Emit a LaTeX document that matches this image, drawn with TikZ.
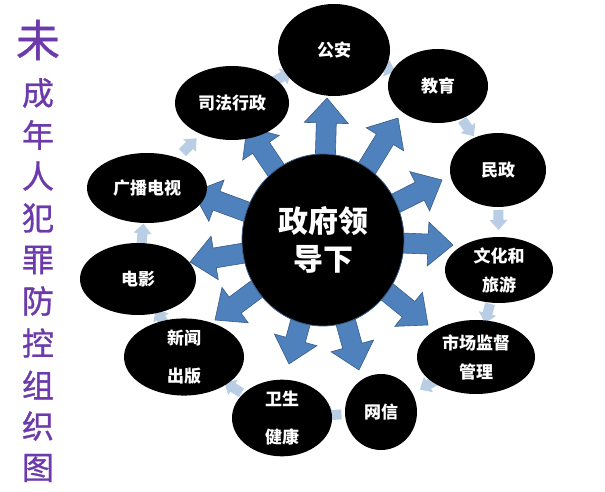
\documentclass[tikz,border=0pt]{standalone}
\usepackage{fontspec}
\newfontfamily\cjk{Noto Sans CJK SC}
\newfontfamily\cjkt{Noto Sans CJK SC}[FakeBold=0.9]
\usetikzlibrary{shapes.geometric,calc}
\pgfdeclarelayer{bg}
\pgfsetlayers{bg,main}
\definecolor{abluef}{RGB}{79,129,189}
\definecolor{ablued}{RGB}{56,93,138}
\definecolor{alight}{RGB}{185,205,229}
\definecolor{tpurple}{RGB}{108,58,170}
% block arrow from #1 to #2: shaft half width #3, head half width #4, head length #5, style #6
\newcommand\blockarr[6]{%
  \path[#6] ($(#1)!#3!-90:(#2)$)
   -- ($(#2)!#5!(#1)!#3!90:(#1)$)
   -- ($(#2)!#5!(#1)!#4!90:(#1)$)
   -- (#2)
   -- ($(#2)!#5!(#1)!#4!-90:(#1)$)
   -- ($(#2)!#5!(#1)!#3!-90:(#1)$)
   -- ($(#1)!#3!90:(#2)$) -- cycle;}
\begin{document}
\begin{tikzpicture}[x=1pt,y=-1pt,
  ell/.style={ellipse, fill=black, inner sep=0pt, text=white, align=center,
    font=\cjk\bfseries\fontsize{17}{29}\selectfont},
  ellwide/.style={ell, font=\cjk\bfseries\fontsize{17}{38}\selectfont},
  hub/.style={ellipse, fill=black, draw=ablued, line width=0.8pt, inner sep=0pt,
    text=white, align=center, font=\cjk\bfseries\fontsize{30}{38}\selectfont},
  bigarrow/.style={fill=abluef, draw=ablued, line width=0.6pt, line join=miter},
  smallarrow/.style={fill=alight},
  ttl/.style={text=tpurple, inner sep=0pt, font=\cjkt\fontsize{32}{32}\selectfont},
  ttlbig/.style={text=tpurple, inner sep=0pt, font=\cjkt\fontsize{44}{44}\selectfont}]
\useasboundingbox (0,0) rectangle (605,492);

% title
\node[ttlbig] (t0) at (38,40) {未};
\foreach \ch/\yy [count=\i] in {成/93,年/135,人/176,犯/218,罪/260,防/301,控/343,组/385,织/426,图/468}
  \node[ttl] (t\i) at (38,\yy) {\ch};

% hub
\node[hub, minimum width=162pt, minimum height=172pt] (c) at (323,240) {政府领\\导下};

% ellipses
\node[ell, minimum width=112pt, minimum height=92pt] (ga) at (334,50) {公安};
\node[ell, minimum width=100pt, minimum height=74pt] (jy) at (438,86) {教育};
\node[ell, minimum width=96pt, minimum height=74pt] (mz) at (498,170) {民政};
\node[ell, minimum width=108pt, minimum height=66pt] (wh) at (499,270) {文化和\\旅游};
\node[ell, minimum width=118pt, minimum height=74pt] (sc) at (476,357) {市场监督\\管理};
\node[ell, minimum width=72pt, minimum height=76pt] (wx) at (381,412) {网信};
\node[ellwide, minimum width=100pt, minimum height=72pt] (ws) at (282,418) {卫生\\健康};
\node[ellwide, minimum width=120pt, minimum height=72pt] (xw) at (184,357) {新闻\\出版};
\node[ell, minimum width=116pt, minimum height=72pt] (dy) at (138,279) {电影};
\node[ell, minimum width=120pt, minimum height=70pt] (gb) at (147,188) {广播电视};
\node[ell, minimum width=114pt, minimum height=74pt] (sf) at (232,103) {司法行政};

% arrow tips
\coordinate (tga) at (327,98);
\coordinate (tjy) at (398,118);
\coordinate (tmz) at (442,180);
\coordinate (twh) at (453,245);
\coordinate (tsc) at (428,325);
\coordinate (twx) at (359,370);
\coordinate (tws) at (289,364);
\coordinate (txw) at (215,320);
\coordinate (tdy) at (190,262);
\coordinate (tgb) at (193,192);
\coordinate (tsf) at (247,127);

\begin{pgfonlayer}{bg}
  \foreach \t in {tga,tjy,tmz,twh,tsc,twx,tws,txw,tdy,tgb,tsf}
    \blockarr{c}{\t}{10pt}{22pt}{25pt}{bigarrow};
  \foreach \a/\b [count=\i] in {ga/jy,jy/mz,mz/wh,wh/sc,sc/wx,wx/ws,ws/xw,xw/dy,dy/gb,gb/sf,sf/ga}{
    \coordinate (s\i) at ($(\a)!.5!(\b)!10pt!(\a)$);
    \coordinate (e\i) at ($(\a)!.5!(\b)!10pt!(\b)$);
    \blockarr{s\i}{e\i}{5pt}{9pt}{10pt}{smallarrow};
  }
\end{pgfonlayer}
\end{tikzpicture}
\end{document}
